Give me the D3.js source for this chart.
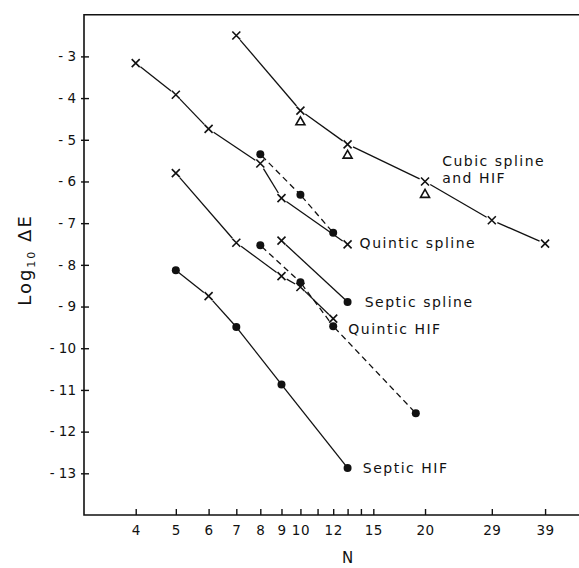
<!DOCTYPE html>
<html>
<head>
<meta charset="utf-8">
<script src="https://cdn.jsdelivr.net/npm/d3@7"></script>
<style>
  html, body { margin: 0; padding: 0; background: #fff; }
  svg { display: block; }
  text { font-family: "DejaVu Sans", sans-serif; fill: #111; }
</style>
</head>
<body>
<svg id="chart" width="579" height="568"></svg>
<script>
// ---- data ----
const xTickValues = [4, 5, 6, 7, 8, 9, 10, 11, 12, 13, 14, 15, 20, 29, 39];
const xTickLabels = ["4", "5", "6", "7", "8", "9", "10", "", "12", "", "", "15", "20", "29", "39"];
const yTickValues = [-3, -4, -5, -6, -7, -8, -9, -10, -11, -12, -13];

// Cubic spline and HIF (crosses, solid)
const cubicN = [7, 10, 13, 20, 29, 39];
const cubicE = [-2.50, -4.30, -5.11, -6.00, -6.93, -7.49];
const cubicM = ["x", "x", "x", "x", "x", "x"];
// triangles beside cubic curve
const triN = [10, 13, 20];
const triE = [-4.56, -5.36, -6.30];

// Quintic spline (crosses, solid)
const quinticSplineN = [4, 5, 6, 8, 9, 13];
const quinticSplineE = [-3.16, -3.92, -4.74, -5.57, -6.40, -7.51];
const quinticSplineM = ["x", "x", "x", "x", "x", "x"];

// dashed dots (upper)
const dashUpperN = [8, 10, 12];
const dashUpperE = [-5.35, -6.32, -7.23];
const dashUpperM = ["o", "o", "o"];

// solid crosses leading to Quintic HIF
const quinticHifN = [5, 7, 9, 10, 12];
const quinticHifE = [-5.80, -7.47, -8.27, -8.53, -9.29];
const quinticHifM = ["x", "x", "x", "x", "x"];

// dashed dots (lower)
const dashLowerN = [8, 10, 12, 19];
const dashLowerE = [-7.53, -8.42, -9.47, -11.56];
const dashLowerM = ["o", "o", "o", "o"];

// Septic spline
const septicSplineN = [9, 13];
const septicSplineE = [-7.42, -8.89];
const septicSplineM = ["x", "o"];

// Septic HIF
const septicHifN = [5, 6, 7, 9, 13];
const septicHifE = [-8.13, -8.75, -9.49, -10.87, -12.87];
const septicHifM = ["o", "x", "o", "o", "o"];

// labels
const curveLabels = [
  { text: "Cubic spline", n: 22.0, e: -5.63 },
  { text: "and HIF", n: 22.0, e: -6.04 },
  { text: "Quintic spline", n: 13.9, e: -7.60 },
  { text: "Septic spline", n: 14.3, e: -9.00 },
  { text: "Quintic HIF", n: 13.05, e: -9.66 },
  { text: "Septic HIF", n: 14.15, e: -13.0 }
];

// ---- layout ----
const svg = d3.select("#chart");
const plotL = 84, plotR = 579, plotT = 14.7, plotB = 515;
const x = d3.scaleLog().domain([3, 47.1]).range([plotL, plotR]);
const y = d3.scaleLinear().domain([-14, -2]).range([plotB, plotT]);

// frame (left, top, bottom)
svg.append("path")
  .attr("d", `M${plotR},${plotT}H${plotL}V${plotB}H${plotR}`)
  .attr("fill", "none").attr("stroke", "#111").attr("stroke-width", 1.6);

// x axis
const xAxis = d3.axisBottom(x)
  .tickValues(xTickValues)
  .tickFormat((d, i) => xTickLabels[i])
  .tickSize(-6).tickPadding(10);
const gx = svg.append("g").attr("transform", `translate(0,${plotB})`).call(xAxis);
gx.select(".domain").remove();
gx.selectAll(".tick line").attr("stroke", "#111").attr("stroke-width", 1.4);
gx.selectAll(".tick text").style("font-size", "13.5px").style("letter-spacing", "0.5px")
  .style("font-family", "DejaVu Sans, sans-serif").attr("fill", "#111");

// y axis
const yAxis = d3.axisLeft(y)
  .tickValues(yTickValues)
  .tickFormat(d => "- " + Math.abs(d))
  .tickSize(-5).tickPadding(8);
const gy = svg.append("g").attr("transform", `translate(${plotL},0)`).call(yAxis);
gy.select(".domain").remove();
gy.selectAll(".tick line").attr("stroke", "#111").attr("stroke-width", 1.4)
  .attr("x1", -3);
gy.selectAll(".tick text").style("font-size", "13.5px")
  .style("font-family", "DejaVu Sans, sans-serif").attr("fill", "#111");

// axis titles
svg.append("text")
  .attr("x", x(13)).attr("y", 563)
  .attr("text-anchor", "middle")
  .style("font-size", "15px").text("N");

const yt = svg.append("text")
  .attr("transform", "translate(31,260) rotate(-90)")
  .attr("text-anchor", "middle")
  .style("font-size", "18px").style("letter-spacing", "2px");
yt.append("tspan").text("Log");
yt.append("tspan").attr("dy", 4).style("font-size", "11px").text("10");
yt.append("tspan").attr("dy", -4).text(" ΔE");

// ---- series drawing ----
function gapFor(m) { return m === "x" ? 6 : (m === "o" ? 2 : 7); }

function drawSeries(ns, es, ms, dashed) {
  const pts = ns.map((n, i) => ({ px: x(n), py: y(es[i]), m: ms[i] }));
  const g = svg.append("g");
  for (let i = 0; i < pts.length - 1; i++) {
    const a = pts[i], b = pts[i + 1];
    const dx = b.px - a.px, dy = b.py - a.py;
    const len = Math.hypot(dx, dy);
    const ux = dx / len, uy = dy / len;
    const ga = gapFor(a.m), gb = gapFor(b.m);
    g.append("line")
      .attr("x1", a.px + ux * ga).attr("y1", a.py + uy * ga)
      .attr("x2", b.px - ux * gb).attr("y2", b.py - uy * gb)
      .attr("stroke", "#111").attr("stroke-width", 1.3)
      .attr("stroke-dasharray", dashed ? "6,4" : null);
  }
  drawMarkers(pts);
}

function drawMarkers(pts) {
  const g = svg.append("g");
  pts.forEach(p => {
    if (p.m === "x") {
      const s = 4;
      g.append("path")
        .attr("d", `M${p.px - s},${p.py - s}L${p.px + s},${p.py + s}M${p.px - s},${p.py + s}L${p.px + s},${p.py - s}`)
        .attr("stroke", "#111").attr("stroke-width", 1.6).attr("fill", "none");
    } else if (p.m === "o") {
      g.append("circle").attr("cx", p.px).attr("cy", p.py).attr("r", 4).attr("fill", "#111");
    } else if (p.m === "t") {
      const s = 4.5;
      g.append("path")
        .attr("d", `M${p.px},${p.py - s}L${p.px + s},${p.py + s * 0.75}L${p.px - s},${p.py + s * 0.75}Z`)
        .attr("stroke", "#111").attr("stroke-width", 1.6).attr("fill", "none");
    }
  });
}

drawSeries(cubicN, cubicE, cubicM, false);
drawMarkers(triN.map((n, i) => ({ px: x(n), py: y(triE[i]), m: "t" })));
drawSeries(quinticSplineN, quinticSplineE, quinticSplineM, false);
drawSeries(dashUpperN, dashUpperE, dashUpperM, true);
drawSeries(quinticHifN, quinticHifE, quinticHifM, false);
drawSeries(dashLowerN, dashLowerE, dashLowerM, true);
drawSeries(septicSplineN, septicSplineE, septicSplineM, false);
drawSeries(septicHifN, septicHifE, septicHifM, false);

// curve labels
svg.append("g").selectAll("text").data(curveLabels).join("text")
  .attr("x", d => x(d.n)).attr("y", d => y(d.e))
  .style("font-size", "14px").style("letter-spacing", "1.5px")
  .text(d => d.text);
</script>
</body>
</html>
